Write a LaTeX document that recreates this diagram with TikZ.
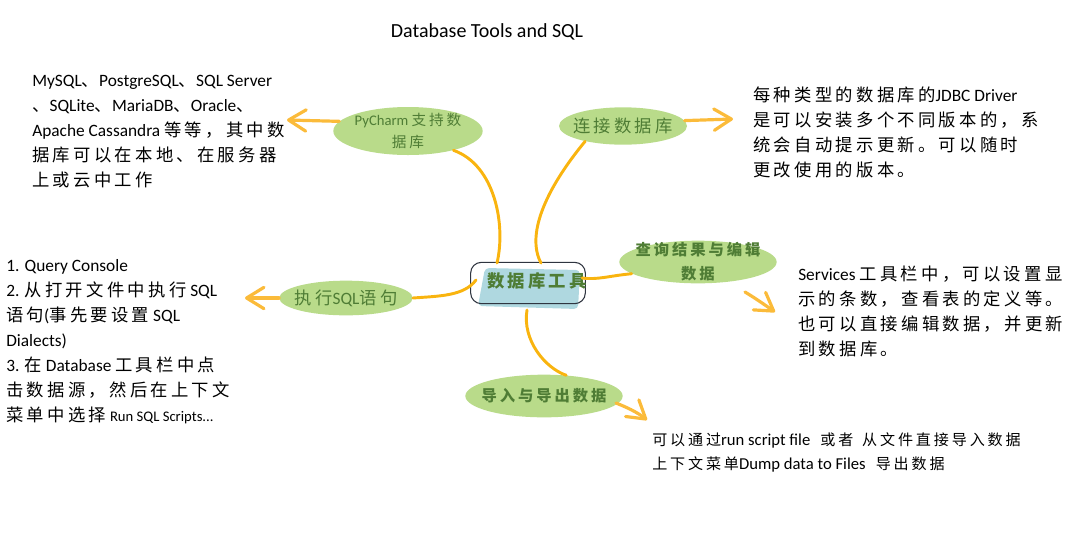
\documentclass[tikz,border=0pt]{standalone}
\usepackage{fontspec}
\setmainfont{Carlito}
\newfontfamily\zhfont{Noto Sans CJK SC}[LetterSpace=19]
\newcommand{\zh}[1]{{\zhfont #1}}
\newcommand{\enrun}[1]{{\fontsize{12.5}{18}\selectfont #1}}
\usetikzlibrary{shapes.geometric,arrows.meta}
\definecolor{blobgreen}{HTML}{B9DB8A}
\definecolor{leafgreen}{HTML}{4F7D35}
\definecolor{boxblue}{HTML}{AFD8E0}
\definecolor{linkorange}{HTML}{F9B40F}
\definecolor{tiporange}{HTML}{FBBB3A}
\definecolor{outlinegray}{HTML}{2F3540}
\begin{document}
\begin{tikzpicture}
  [x=.75pt,y=-.75pt,
   blob/.style={ellipse,fill=blobgreen,inner sep=-6pt,text=leafgreen,align=center},
   note/.style={anchor=north west,inner sep=0pt,align=left,font=\fontsize{13}{18.75}\selectfont},
   link/.style={draw=linkorange,line width=2.2pt,line cap=round},
   arrow/.style={draw=tiporange,line width=2.4pt,line cap=round,
     -{Straight Barb[length=13pt,width=16pt,round]}}]
  \useasboundingbox (0,0) rectangle (1077,547);

  \fill[boxblue,rounded corners=3pt] (485,268) -- (580,270) -- (578,309) -- (478,306) -- cycle;

  \node[font=\fontsize{15}{18}\selectfont] (title) at (487,32) {Database Tools and SQL};

  \node[draw=outlinegray,line width=.8pt,rounded corners=8pt,minimum width=86pt,
    minimum height=31pt] (toolsbox) at (528,283) {};
  \node[font=\fontsize{13}{16}\bfseries\selectfont,text=leafgreen] (toolstext) at (537,281) {\zh{数据库工具}};

  \node[blob,minimum width=112pt,minimum height=36pt,font=\fontsize{11}{17}\selectfont]
    (pycharm) at (408,131) {PyCharm \zh{支持数}\\\zh{据库}};
  \node[blob,minimum width=96pt,minimum height=28pt,font=\fontsize{13}{15}\selectfont]
    (connect) at (623,126) {\zh{连接数据库}};
  \node[blob,minimum width=118pt,minimum height=32pt,font=\fontsize{11.5}{18}\bfseries\selectfont]
    (query) at (698,262) {\zh{查询结果与编辑}\\\zh{数据}};
  \node[blob,minimum width=100pt,minimum height=26pt,font=\fontsize{13}{15}\selectfont]
    (execute) at (346,298) {\zh{执行}SQL\zh{语句}};
  \node[blob,minimum width=118pt,minimum height=32pt,font=\fontsize{11.5}{15}\bfseries\selectfont]
    (import) at (544,396) {\zh{导入与导出数据}};

  \node[note] (dbnote) at (32,75) {MySQL\zh{、}PostgreSQL\zh{、}SQL Server\\\zh{、}SQLite\zh{、}MariaDB\zh{、}Oracle\zh{、}\\Apache Cassandra \zh{等等，其中数}\\\zh{据库可以在本地、在服务器}\\\zh{上或云中工作}};
  \node[note] (sqlnote) at (6,259) {1. Query Console\\2. \zh{从打开文件中执行} SQL\\\zh{语句}(\zh{事先要设置} SQL\\Dialects)\\3. \zh{在} Database \zh{工具栏中点}\\\zh{击数据源，然后在上下文}\\\zh{菜单中选择} {\fontsize{11}{18.75}\selectfont Run SQL Scripts...}};
  \node[note] (linknote) at (753,87) {\zh{每种类型的数据库的}JDBC Driver\\\zh{是可以安装多个不同版本的，系}\\\zh{统会自动提示更新。可以随时}\\\zh{更改使用的版本。}};
  \node[note] (resultnote) at (798,266) {Services \zh{工具栏中，可以设置显}\\\zh{示的条数，查看表的定义等。}\\\zh{也可以直接编辑数据，并更新}\\\zh{到数据库。}};
  \node[note,font=\fontsize{11.3}{18}\selectfont] (importnote) at (652,432) {\zh{可以通过}\enrun{run script file}\hspace{5pt} \zh{或者}\hspace{4pt} \zh{从文件直接导入数据}\\\zh{上下文菜单}\enrun{Dump data to Files}\hspace{5pt} \zh{导出数据}};

  \coordinate (pycharmtip) at (287,120);
  \coordinate (connecttip) at (733,119);
  \coordinate (querystart) at (745,292);
  \coordinate (querytip) at (775,312);
  \coordinate (executetip) at (245,298);
  \coordinate (importstart) at (616,403);
  \coordinate (importtip) at (647,420);

  \draw[link] (497,263) .. controls (506,225) and (495,165) .. (pycharm.-23);
  \draw[link] (541,263) .. controls (526,235) and (545,190) .. (connect.-158);
  \draw[link] (582,278) .. controls (598,280) and (608,276) .. (query.-170);
  \draw[link] (476,280) .. controls (464,296) and (440,296) .. (execute.east);
  \draw[link] (527,310) .. controls (522,340) and (545,368) .. (import.43);

  \draw[arrow] (pycharm.172) -- (pycharmtip);
  \draw[arrow] (connect.5) -- (connecttip);
  \draw[arrow] (querystart) .. controls (755,298) and (765,305) .. (querytip);
  \draw[arrow] (execute.west) -- (executetip);
  \draw[arrow] (importstart) .. controls (626,407) and (637,412) .. (importtip);
\end{tikzpicture}
\end{document}
